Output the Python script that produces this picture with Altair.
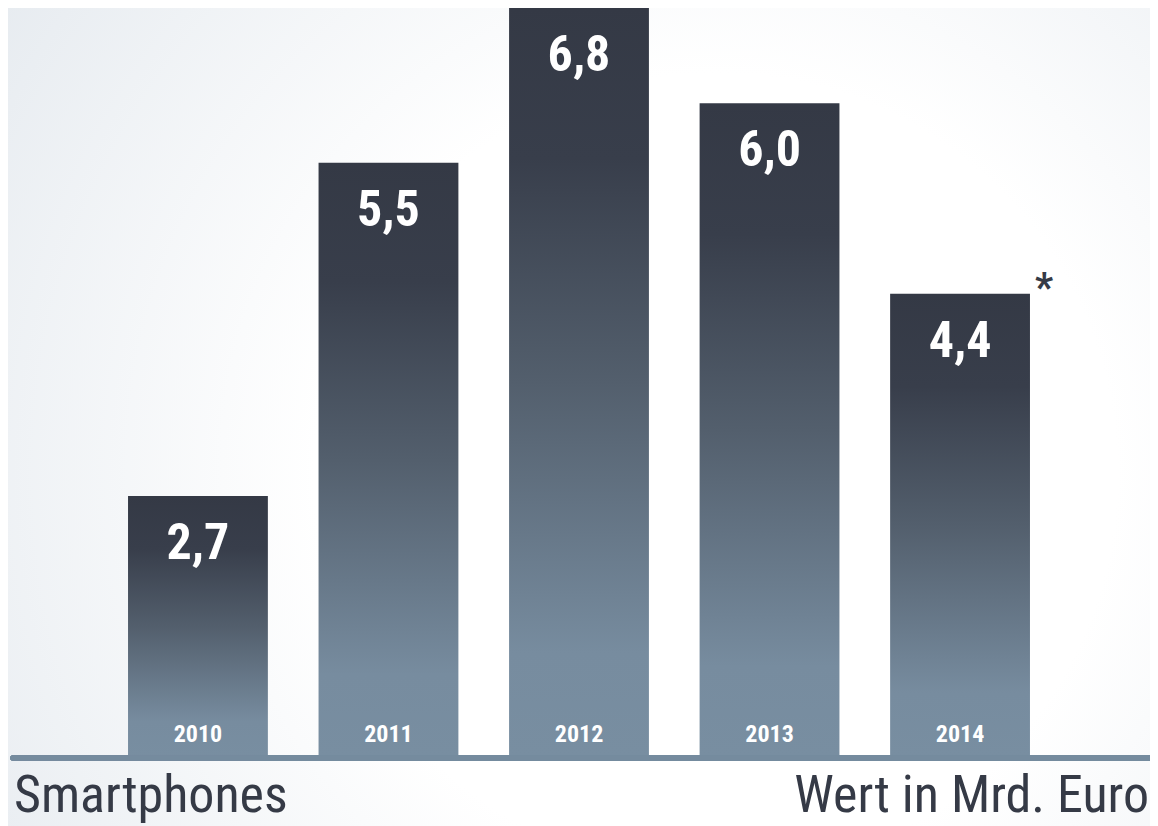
import altair as alt
import pandas as pd

years = ["2010", "2011", "2012", "2013", "2014"]
values = [2.7, 5.5, 6.8, 6.0, 4.4]
value_labels = ["2,7", "5,5", "6,8", "6,0", "4,4"]
footnote_years = ["2014"]
left_title = "Smartphones"
right_title = "Wert in Mrd. Euro"

df = pd.DataFrame({"year": years, "value": values, "label": value_labels})
df["note"] = ["*" if y in footnote_years else "" for y in years]

W, H = 1142, 750
FONT = "Liberation Sans Narrow, Roboto Condensed, DejaVu Sans Condensed, Roboto, sans-serif"
DARK = "#353a46"
LINE = "#758b9e"

xs = alt.Scale(paddingInner=0.266, paddingOuter=0.63)
ys = alt.Scale(domain=[0.5, 6.8], clamp=True, nice=False, zero=False)

bg = alt.Chart(pd.DataFrame({"a": [0]})).mark_rect(
    clip=False,
    fill={
        "gradient": "radial",
        "x1": 0.62, "y1": 0.55, "r1": 0,
        "x2": 0.62, "y2": 0.55, "r2": 0.78,
        "stops": [
            {"offset": 0, "color": "#ffffff"},
            {"offset": 0.45, "color": "#ffffff"},
            {"offset": 1, "color": "#e5eaef"},
        ],
    },
).encode(x=alt.value(0), x2=alt.value(W), y=alt.value(0), y2=alt.value(818))

base = alt.Chart(df)

bars = base.mark_bar(
    fill={
        "gradient": "linear",
        "x1": 0, "y1": 0, "x2": 0, "y2": 1,
        "stops": [
            {"offset": 0, "color": "#343945"},
            {"offset": 0.2, "color": "#383e4b"},
            {"offset": 0.5, "color": "#535f6d"},
            {"offset": 0.86, "color": "#778c9f"},
            {"offset": 1, "color": "#788ea1"},
        ],
    }
).encode(
    x=alt.X("year:N", scale=xs, axis=None, sort=years),
    y=alt.Y("value:Q", scale=ys, axis=None),
    y2=alt.datum(0),
)

vals = base.mark_text(
    font=FONT, fontSize=50, fontWeight="bold", color="#ffffff",
    baseline="alphabetic", align="center", dy=63,
).encode(x=alt.X("year:N", sort=years), y="value:Q", text="label:N")

yrs = base.mark_text(
    font=FONT, fontSize=24, fontWeight="bold", color="#ffffff",
    baseline="alphabetic", align="center", dy=-16,
).encode(x=alt.X("year:N", sort=years), y=alt.datum(0), text="year:N")

note = base.transform_filter(alt.datum.note != "").mark_text(
    font=FONT, fontSize=40, fontWeight="bold", color=DARK,
    baseline="alphabetic", align="center", dx=84, dy=7,
).encode(x=alt.X("year:N", sort=years), y="value:Q", text="note:N")

rule = base.mark_rule(strokeWidth=5.5, strokeCap="round", color=LINE).encode(
    x=alt.value(5), x2=alt.value(W), y=alt.datum(0)
)

titles = pd.DataFrame({"t": [left_title, right_title], "side": ["left", "right"]})
tl = alt.Chart(titles).transform_filter(alt.datum.side == "left").mark_text(
    font=FONT, fontSize=52, color=DARK, align="left", baseline="alphabetic"
).encode(x=alt.value(6), y=alt.value(804), text="t:N")
tr = alt.Chart(titles).transform_filter(alt.datum.side == "right").mark_text(
    font=FONT, fontSize=52, color=DARK, align="right", baseline="alphabetic"
).encode(x=alt.value(W - 1), y=alt.value(804), text="t:N")

chart = alt.layer(bg, bars, vals, yrs, note, rule, tl, tr).properties(
    width=W, height=H,
    autosize=alt.AutoSizeParams(type="none"),
    padding={"left": 0, "top": 0, "right": 0, "bottom": 68},
).configure_view(stroke=None).configure(background="#ffffff")

chart.save("out.html", embed_options={"renderer": "svg", "actions": False})
